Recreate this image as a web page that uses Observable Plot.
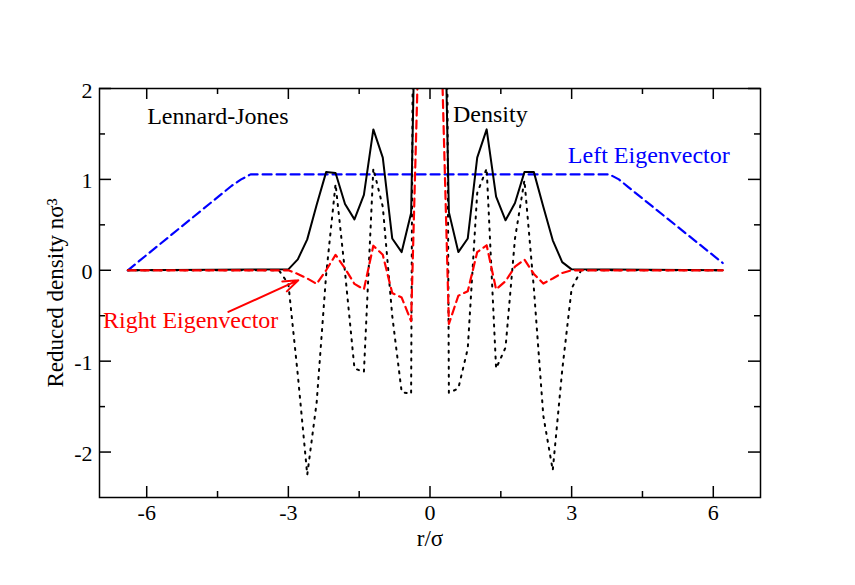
<!DOCTYPE html>
<html>
<head>
<meta charset="utf-8">
<script src="https://cdn.jsdelivr.net/npm/d3@7"></script>
<script src="https://cdn.jsdelivr.net/npm/@observablehq/plot@0.6"></script>
<style>
  html, body { margin: 0; padding: 0; background: #fff; overflow: hidden; }
  svg text { font-family: "Liberation Serif", "Times New Roman", serif; }
</style>
</head>
<body>
<div id="chart"></div>
<script>
// ---- data ----
const densityX = [-6.4, -3.0, -2.8, -2.6, -2.4, -2.2, -2.0, -1.8, -1.6, -1.4, -1.2, -1.0, -0.8, -0.6, -0.4, -0.2, 0, 0.2, 0.4, 0.6, 0.8, 1.0, 1.2, 1.4, 1.6, 1.8, 2.0, 2.2, 2.4, 2.6, 2.8, 3.0, 6.2];
const densityY = [0, 0.01, 0.12, 0.34, 0.72, 1.08, 1.07, 0.73, 0.56, 0.83, 1.55, 1.24, 0.35, 0.20, 0.63, 6, 8, 6, 0.64, 0.20, 0.35, 1.24, 1.55, 0.81, 0.55, 0.74, 1.08, 1.08, 0.70, 0.33, 0.09, 0.01, 0];

const dottedX = [-6.4, -3.2, -3.0, -2.8, -2.6, -2.4, -2.2, -2.0, -1.8, -1.6, -1.4, -1.2, -1.0, -0.8, -0.6, -0.4, -0.2, 0, 0.2, 0.4, 0.6, 0.8, 1.0, 1.2, 1.4, 1.6, 1.8, 2.0, 2.2, 2.4, 2.6, 2.8, 3.0, 3.2, 6.2];
const dottedY = [0, 0, -0.15, -1.15, -2.25, -1.45, -0.05, 0.95, -0.02, -1.08, -1.12, 1.12, 0.7, -0.5, -1.34, -1.36, 20, 30, 20, -1.35, -1.30, -0.86, 0.85, 1.12, -1.08, -0.85, 0.35, 0.99, -0.2, -1.6, -2.2, -1.1, -0.2, 0, 0];

const rightX = [-6.4, -3.0, -2.8, -2.6, -2.4, -2.2, -2.0, -1.8, -1.6, -1.4, -1.2, -1.0, -0.8, -0.6, -0.4, -0.2, 0, 0.2, 0.4, 0.6, 0.8, 1.0, 1.2, 1.4, 1.6, 1.8, 2.0, 2.2, 2.4, 2.6, 2.8, 3.0, 6.2];
const rightY = [0, 0, -0.04, -0.09, -0.15, 0.0, 0.17, 0.02, -0.15, -0.21, 0.27, 0.17, -0.25, -0.30, -0.56, 3.3, 4.5, 3.3, -0.59, -0.28, -0.23, 0.2, 0.275, -0.21, -0.12, 0.04, 0.117, -0.04, -0.146, -0.09, -0.03, 0, 0];

const leftX = [-6.4, -4.2, -4.0, -3.8, 3.8, 4.0, 4.2, 6.2];
const leftY = [0, 0.93, 1.0, 1.055, 1.055, 1.0, 0.915, 0.08];

const xMajor = [-6, -3, 0, 3, 6];
const xMinor = [-4.5, -1.5, 1.5, 4.5];
const yMajor = [-2, -1, 0, 1, 2];
const yMinor = [-1.5, -0.5, 0.5, 1.5];

const labelText = ["Lennard-Jones", "Density", "Left Eigenvector", "Right Eigenvector"];
const labelX = [-5.99, 0.487, 2.92, -6.925];
const labelY = [1.613, 1.635, 1.175, -0.64];
const labelColor = ["black", "black", "#0000ff", "#ff0000"];

const arrowFrom = [-4.27, -0.458];
const arrowTo = [-2.79, -0.109];

// ---- build tables ----
const zipXY = (xs, ys) => xs.map((x, i) => ({x, y: ys[i]}));
const density = zipXY(densityX, densityY);
const dotted = zipXY(dottedX, dottedY);
const rightEig = zipXY(rightX, rightY);
const leftEig = zipXY(leftX, leftY);
const labels = labelText.map((t, i) => ({t, x: labelX[i], y: labelY[i], c: labelColor[i]}));

const W = 855, H = 585, mL = 99, mR = 95, mT = 88, mB = 88;
const iW = W - mL - mR, iH = H - mT - mB;
const fmt = d => String(d);

const chart = Plot.plot({
  width: W, height: H,
  marginLeft: mL, marginRight: mR, marginTop: mT, marginBottom: mB,
  style: {fontFamily: "'Liberation Serif', 'Times New Roman', serif", fontSize: "22px", background: "white", color: "black"},
  x: {domain: [-7, 7]},
  y: {domain: [-2.5, 2]},
  marks: [
    // curves
    Plot.line(leftEig, {x: "x", y: "y", stroke: "#0000ff", strokeWidth: 2.2, strokeDasharray: "9,5", clip: true}),
    Plot.line(density, {x: "x", y: "y", stroke: "black", strokeWidth: 2, clip: true}),
    Plot.line(dotted, {x: "x", y: "y", stroke: "black", strokeWidth: 2, strokeDasharray: "2,6", clip: true}),
    Plot.line(rightEig, {x: "x", y: "y", stroke: "#ff0000", strokeWidth: 2.2, strokeDasharray: "8,5", clip: true}),
    // annotation arrow and texts
    Plot.arrow([{x1: arrowFrom[0], y1: arrowFrom[1], x2: arrowTo[0], y2: arrowTo[1]}],
      {x1: "x1", y1: "y1", x2: "x2", y2: "y2", stroke: "#ff0000", strokeWidth: 2, headLength: 12, headAngle: 40}),
    Plot.text(labels, {x: "x", y: "y", text: "t", fill: "c", textAnchor: "start", lineAnchor: "bottom", fontSize: 24}),
    // frame and inward ticks
    Plot.frame({stroke: "black", strokeWidth: 1.5}),
    Plot.tickX(xMajor, {x: d => d, insetTop: iH - 11, strokeWidth: 1.5}),
    Plot.tickX(xMajor, {x: d => d, insetBottom: iH - 11, strokeWidth: 1.5}),
    Plot.tickX(xMinor, {x: d => d, insetTop: iH - 6, strokeWidth: 1.5}),
    Plot.tickX(xMinor, {x: d => d, insetBottom: iH - 6, strokeWidth: 1.5}),
    Plot.tickY(yMajor, {y: d => d, insetRight: iW - 12, strokeWidth: 1.5}),
    Plot.tickY(yMajor, {y: d => d, insetLeft: iW - 12, strokeWidth: 1.5}),
    Plot.tickY(yMinor, {y: d => d, insetRight: iW - 6, strokeWidth: 1.5}),
    Plot.tickY(yMinor, {y: d => d, insetLeft: iW - 6, strokeWidth: 1.5}),
    // tick labels
    Plot.axisX({ticks: xMajor, tickSize: 0, tickPadding: 7, tickFormat: fmt, label: null, fontSize: 22}),
    Plot.axisY({ticks: yMajor, tickSize: 0, tickPadding: 7, tickFormat: fmt, label: null, fontSize: 22, dy: 2}),
    // axis titles
    Plot.text(["r/σ"], {x: 0, y: -3.035, text: d => d, lineAnchor: "bottom", fontSize: 23}),
    Plot.text(["Reduced density nσ³"], {x: -7.77, y: -0.25, text: d => d, rotate: -90, lineAnchor: "bottom", fontSize: 23})
  ]
});
document.getElementById("chart").appendChild(chart);
</script>
</body>
</html>
